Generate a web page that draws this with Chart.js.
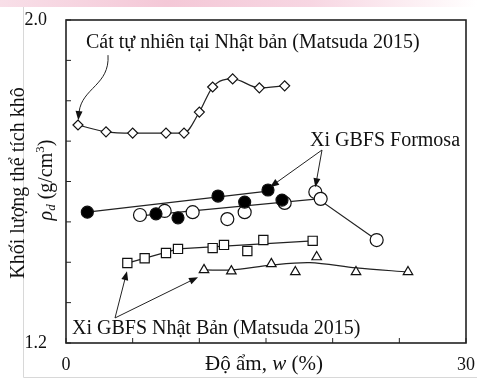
<!DOCTYPE html>
<html>
<head>
<meta charset="utf-8">
<script src="https://cdn.jsdelivr.net/npm/chart.js@4.4.1/dist/chart.umd.min.js"></script>
<style>
  body { margin: 0; background: #fff; }
  canvas { display: block; }
</style>
</head>
<body>
<canvas id="densityChart" width="477" height="379"></canvas>
<script>
// natural sand, Japan (Matsuda 2015)
const sandW = [0.9, 3.0, 5.0, 7.5, 8.85, 10.0, 11.0, 12.5, 14.5, 16.4];
const sandRho = [1.74, 1.723, 1.72, 1.72, 1.72, 1.772, 1.834, 1.854, 1.832, 1.837];

// GBFS Formosa - filled and open circles
const formosaFilledW = [1.6, 6.75, 8.4, 11.4, 13.4, 15.15, 16.2];
const formosaFilledRho = [1.524, 1.520, 1.510, 1.564, 1.549, 1.579, 1.554];
const formosaOpenW = [5.55, 7.4, 9.5, 12.1, 13.4, 16.4, 18.7, 19.1, 23.3];
const formosaOpenRho = [1.517, 1.527, 1.524, 1.507, 1.524, 1.547, 1.574, 1.557, 1.455];
const formosaFilledFitW = [1.6, 15.15];
const formosaFilledFitRho = [1.524, 1.576];
const formosaOpenFitW = [5.55, 18.9, 23.3];
const formosaOpenFitRho = [1.515, 1.557, 1.455];

// GBFS Japan (Matsuda 2015) - squares and triangles
const japanSqW = [4.6, 5.9, 7.5, 8.4, 11.0, 11.85, 13.6, 14.8, 18.5];
const japanSqRho = [1.398, 1.410, 1.423, 1.433, 1.435, 1.443, 1.428, 1.455, 1.453];
const japanSqFitW = [4.6, 8.4, 18.5];
const japanSqFitRho = [1.398, 1.433, 1.453];
const japanTriW = [10.35, 12.4, 15.4, 17.2, 18.8, 21.75, 25.65];
const japanTriRho = [1.381, 1.378, 1.396, 1.376, 1.413, 1.376, 1.376];
const japanTriFitW = [10.35, 12.4, 15.4, 18.3, 21.75, 25.65];
const japanTriFitRho = [1.381, 1.381, 1.393, 1.399, 1.386, 1.376];

// axis ticks
const xTicks = [0, 5, 10, 15, 20, 25, 30];
const yTicks = [1.2, 1.3, 1.4, 1.5, 1.6, 1.7, 1.8, 1.9, 2.0];
const xTickLabels = ['0', '30'];
const yTickLabels = ['1.2', '2.0'];

const pts = (xs, ys) => xs.map((x, i) => ({ x: x, y: ys[i] }));
const SERIF = '"Liberation Serif", "DejaVu Serif", serif';

function markers(data, style, radius, fill, order) {
    return {
        data: data, showLine: false, order: order,
        pointStyle: style, pointRadius: radius,
        pointBackgroundColor: fill, pointBorderColor: '#111', pointBorderWidth: 1.2
    };
}
function fitLine(data, tension, order) {
    return {
        data: data, showLine: true, pointRadius: 0, order: order,
        borderColor: '#222', borderWidth: 1.2, tension: tension
    };
}

function arrow(ctx, x1, y1, x2, y2) {
    const a = Math.atan2(y2 - y1, x2 - x1);
    ctx.beginPath();
    ctx.moveTo(x1, y1);
    ctx.lineTo(x2 - 6 * Math.cos(a), y2 - 6 * Math.sin(a));
    ctx.stroke();
    ctx.beginPath();
    ctx.moveTo(x2, y2);
    ctx.lineTo(x2 - 9 * Math.cos(a) + 3.5 * Math.sin(a), y2 - 9 * Math.sin(a) - 3.5 * Math.cos(a));
    ctx.lineTo(x2 - 9 * Math.cos(a) - 3.5 * Math.sin(a), y2 - 9 * Math.sin(a) + 3.5 * Math.cos(a));
    ctx.closePath();
    ctx.fill();
}

const decor = {
    id: 'decor',
    beforeDraw(chart) {
        const ctx = chart.ctx;
        ctx.save();
        const g = ctx.createLinearGradient(0, 0, 477, 0);
        g.addColorStop(0, '#f8dfe8');
        g.addColorStop(0.35, '#f4c8d7');
        g.addColorStop(0.65, '#f7d6e2');
        g.addColorStop(0.9, '#fdf3f6');
        g.addColorStop(1, '#ffffff');
        ctx.fillStyle = g;
        ctx.fillRect(0, 0, 477, 7);
        ctx.strokeStyle = '#d8d8d8';
        ctx.lineWidth = 1;
        ctx.beginPath();
        ctx.moveTo(23.5, 7);
        ctx.lineTo(23.5, 377.5);
        ctx.lineTo(477, 377.5);
        ctx.stroke();
        ctx.restore();
    },
    afterDraw(chart) {
        const ctx = chart.ctx;
        const xs = chart.scales.x, ys = chart.scales.y;
        const a = chart.chartArea;
        const X = v => xs.getPixelForValue(v), Y = v => ys.getPixelForValue(v);
        ctx.save();
        // frame and inward ticks
        ctx.strokeStyle = '#222';
        ctx.lineWidth = 1.6;
        ctx.strokeRect(a.left, a.top, a.right - a.left, a.bottom - a.top);
        ctx.lineWidth = 1;
        ctx.beginPath();
        xTicks.forEach(t => { ctx.moveTo(X(t), a.bottom); ctx.lineTo(X(t), a.bottom - 5); });
        yTicks.forEach(t => { ctx.moveTo(a.left, Y(t)); ctx.lineTo(a.left + 5, Y(t)); });
        ctx.stroke();

        ctx.fillStyle = '#111';
        ctx.font = '18px ' + SERIF;
        ctx.textBaseline = 'middle';
        ctx.textAlign = 'right';
        yTickLabels.forEach(l => ctx.fillText(l, a.left - 19, Y(parseFloat(l))));
        ctx.textAlign = 'center';
        xTickLabels.forEach(l => ctx.fillText(l, X(parseFloat(l)), a.bottom + 22));

        // x title: Độ ẩm, w (%)
        const xf = '21px ' + SERIF, xfi = 'italic 21px ' + SERIF;
        ctx.textAlign = 'left';
        const p1 = 'Độ ẩm, ', p3 = ' (%)';
        ctx.font = xf;
        const w1 = ctx.measureText(p1).width, w3 = ctx.measureText(p3).width;
        ctx.font = xfi;
        const w2 = ctx.measureText('w').width;
        let cx = 264 - (w1 + w2 + w3) / 2;
        ctx.font = xf;
        ctx.fillText(p1, cx, a.bottom + 21);
        ctx.font = xfi;
        ctx.fillText('w', cx + w1, a.bottom + 21);
        ctx.font = xf;
        ctx.fillText(p3, cx + w1 + w2, a.bottom + 21);

        // y title, two rotated lines
        ctx.save();
        ctx.translate(19, 183);
        ctx.rotate(-Math.PI / 2);
        ctx.textAlign = 'center';
        ctx.font = '20px ' + SERIF;
        ctx.fillText('Khối lượng thể tích khô', 0, 0);
        ctx.restore();

        ctx.save();
        ctx.translate(47, 180);
        ctx.rotate(-Math.PI / 2);
        ctx.textAlign = 'left';
        const parts = [
            ['italic 20px ' + SERIF, 'ρ', 0],
            ['italic 13px ' + SERIF, 'd', 5],
            ['20px ' + SERIF, ' (g/cm', 0],
            ['13px ' + SERIF, '3', -6],
            ['20px ' + SERIF, ')', 0]
        ];
        let total = 0;
        parts.forEach(p => { ctx.font = p[0]; total += ctx.measureText(p[1]).width; });
        let px = -total / 2;
        parts.forEach(p => { ctx.font = p[0]; ctx.fillText(p[1], px, p[2]); px += ctx.measureText(p[1]).width; });
        ctx.restore();

        // annotations
        ctx.font = '20px ' + SERIF;
        ctx.textAlign = 'left';
        ctx.fillText('Cát tự nhiên tại Nhật bản (Matsuda 2015)', X(1.5), Y(1.943));
        ctx.fillText('Xi GBFS Formosa', X(18.3), Y(1.700));
        ctx.fillText('Xi GBFS Nhật Bản (Matsuda 2015)', X(0.45), Y(1.235));

        ctx.strokeStyle = '#222';
        ctx.fillStyle = '#111';
        ctx.lineWidth = 1;
        // curved arrow for natural sand
        ctx.beginPath();
        ctx.moveTo(X(3.15), Y(1.913));
        ctx.bezierCurveTo(X(3.3), Y(1.839), X(1.2), Y(1.832), X(0.98), Y(1.772));
        ctx.stroke();
        arrow(ctx, X(0.98), Y(1.775), X(0.92), Y(1.752));
        // Formosa arrows
        arrow(ctx, X(19.2), Y(1.678), X(15.3), Y(1.586));
        arrow(ctx, X(19.2), Y(1.678), X(18.7), Y(1.586));
        // Japan GBFS arrows
        arrow(ctx, X(3.675), Y(1.262), X(4.575), Y(1.378));
        arrow(ctx, X(3.675), Y(1.262), X(9.9), Y(1.363));
        ctx.restore();
    }
};

const config = {
    type: 'scatter',
    data: {
        datasets: [
            Object.assign(markers(pts(sandW, sandRho), 'rectRot', 5, '#fff', 0),
                { showLine: true, borderColor: '#222', borderWidth: 1.2, cubicInterpolationMode: 'monotone' }),
            markers(pts(formosaFilledW, formosaFilledRho), 'circle', 6, '#000', 0),
            markers(pts(formosaOpenW, formosaOpenRho), 'circle', 6.5, '#fff', 1),
            markers(pts(japanSqW, japanSqRho), 'rect', 6.5, '#fff', 0),
            markers(pts(japanTriW, japanTriRho), 'triangle', 5.5, '#fff', 0),
            fitLine(pts(formosaFilledFitW, formosaFilledFitRho), 0, 2),
            fitLine(pts(formosaOpenFitW, formosaOpenFitRho), 0, 2),
            fitLine(pts(japanSqFitW, japanSqFitRho), 0, 2),
            fitLine(pts(japanTriFitW, japanTriFitRho), 0.3, 2)
        ]
    },
    options: {
        responsive: false,
        animation: false,
        layout: { padding: { left: 66, right: 11, top: 20, bottom: 36 } },
        scales: {
            x: { type: 'linear', min: 0, max: 30, display: false },
            y: { type: 'linear', min: 1.2, max: 2.0, display: false }
        },
        plugins: {
            legend: { display: false },
            tooltip: { enabled: false }
        }
    },
    plugins: [decor]
};

const myChart = new Chart(document.getElementById('densityChart'), config);
</script>
</body>
</html>
